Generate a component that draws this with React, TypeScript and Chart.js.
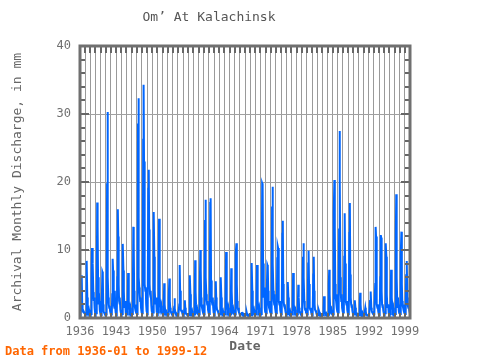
import React, { useEffect, useRef } from "react";
import { Chart, registerables } from "chart.js";

Chart.register(...registerables);

const chartTitle = "Om’ At Kalachinsk";
const yAxisTitle = "Archival Monthly Discharge, in mm";
const xAxisTitle = "Date";
const footnote = "Data from 1936-01 to 1999-12";

const firstYear = 1936;
const lastYearEnd = 2000;
const xTickLabels = ["1936", "1943", "1950", "1957", "1964", "1971", "1978", "1985", "1992", "1999"];
const yMin = 0;
const yMax = 40;
const yStep = 10;

// Monthly discharge (mm), Jan..Dec for each year
const flow1936to1945 = [
  0.6, 0.5, 0.5, 2.5, 6.3, 2.2, 1.2, 0.9, 0.8, 1.0, 0.8, 0.7,
  0.6, 0.5, 0.5, 1.5, 8.4, 3.0, 1.6, 1.0, 0.9, 1.2, 0.9, 0.7,
  0.6, 0.5, 0.6, 6.0, 10.3, 10.2, 8.0, 3.8, 2.5, 3.0, 1.5, 0.8,
  0.7, 0.6, 0.7, 3.5, 17.0, 13.5, 6.0, 3.0, 2.0, 2.5, 1.2, 0.8,
  0.5, 0.4, 0.5, 1.8, 6.8, 6.6, 2.0, 1.0, 0.8, 0.9, 0.6, 0.5,
  0.5, 0.5, 0.6, 19.8, 30.3, 6.0, 3.0, 2.0, 1.5, 1.8, 1.0, 0.7,
  0.6, 0.5, 0.6, 3.5, 8.7, 7.0, 4.5, 2.0, 1.5, 4.0, 1.5, 0.8,
  0.6, 0.5, 0.6, 6.0, 16.0, 12.0, 5.0, 2.5, 2.0, 3.0, 1.2, 0.8,
  0.6, 0.5, 0.6, 3.0, 10.9, 7.0, 4.0, 2.0, 1.5, 2.5, 1.0, 0.7,
  0.5, 0.5, 0.5, 2.0, 6.6, 4.0, 2.5, 1.5, 1.2, 1.5, 0.8, 0.6,
];
const flow1946to1955 = [
  0.6, 0.5, 0.6, 3.0, 13.4, 11.0, 4.0, 2.0, 1.5, 2.0, 1.0, 0.7,
  0.7, 0.6, 0.8, 28.6, 32.3, 6.0, 4.5, 3.5, 2.5, 3.0, 1.5, 1.0,
  0.8, 0.7, 0.8, 26.2, 34.3, 23.0, 7.0, 5.0, 4.0, 4.5, 2.0, 1.0,
  0.8, 0.7, 0.8, 19.0, 21.8, 13.0, 5.0, 3.5, 3.0, 4.0, 1.8, 1.0,
  0.8, 0.7, 0.8, 7.0, 15.6, 9.0, 4.0, 2.5, 2.0, 3.0, 1.5, 0.9,
  0.8, 0.7, 0.8, 5.0, 14.6, 6.0, 3.0, 2.0, 1.5, 1.8, 1.0, 0.7,
  0.6, 0.5, 0.5, 2.5, 5.1, 2.0, 1.2, 0.8, 0.7, 0.9, 0.6, 0.5,
  0.5, 0.5, 0.5, 3.0, 5.8, 2.5, 1.5, 1.0, 0.8, 1.0, 0.6, 0.5,
  0.5, 0.4, 0.4, 1.5, 2.9, 1.4, 0.8, 0.6, 0.5, 0.6, 0.5, 0.4,
  0.4, 0.4, 0.4, 2.0, 7.8, 4.0, 2.0, 1.2, 1.0, 1.2, 0.7, 0.5,
];
const flow1956to1965 = [
  0.5, 0.4, 0.4, 1.2, 2.6, 1.5, 0.8, 0.6, 0.5, 0.6, 0.5, 0.4,
  0.4, 0.4, 0.4, 1.5, 6.3, 3.5, 1.5, 1.0, 0.8, 1.0, 0.6, 0.5,
  0.5, 0.4, 0.5, 2.0, 8.5, 4.0, 2.0, 1.2, 1.0, 1.2, 0.7, 0.5,
  0.5, 0.5, 0.5, 3.0, 10.0, 7.0, 3.0, 1.8, 1.5, 2.0, 1.0, 0.6,
  0.6, 0.5, 0.6, 14.4, 17.4, 6.0, 3.5, 2.5, 2.0, 2.5, 1.2, 0.8,
  0.7, 0.6, 0.7, 16.9, 17.6, 5.5, 3.5, 2.5, 2.0, 3.0, 1.5, 0.8,
  0.6, 0.5, 0.5, 2.5, 5.4, 3.0, 1.8, 1.2, 1.0, 1.2, 0.7, 0.5,
  0.5, 0.5, 0.5, 2.0, 6.0, 3.0, 1.5, 1.0, 0.8, 1.0, 0.6, 0.5,
  0.5, 0.5, 0.5, 3.0, 9.7, 5.9, 2.5, 1.5, 1.2, 1.5, 0.8, 0.6,
  0.6, 0.5, 0.5, 2.5, 7.3, 4.0, 2.0, 1.2, 1.0, 1.2, 0.7, 0.5,
];
const flow1966to1975 = [
  0.6, 0.5, 0.6, 9.5, 11.0, 5.0, 2.5, 1.5, 1.2, 1.5, 0.9, 0.6,
  0.5, 0.4, 0.4, 0.6, 0.9, 0.6, 0.5, 0.4, 0.4, 0.5, 0.4, 0.3,
  0.3, 0.3, 0.3, 0.5, 0.8, 0.5, 0.4, 0.3, 0.3, 0.4, 0.3, 0.3,
  0.3, 0.3, 0.4, 4.0, 8.1, 4.0, 2.0, 1.2, 1.0, 1.2, 0.7, 0.5,
  0.5, 0.5, 0.5, 3.0, 7.8, 5.0, 2.5, 1.5, 1.2, 1.5, 0.8, 0.6,
  0.6, 0.5, 0.6, 8.2, 19.8, 19.6, 8.0, 4.0, 3.0, 4.5, 1.5, 0.9,
  0.8, 0.7, 0.7, 3.5, 7.8, 7.6, 4.0, 2.0, 1.5, 2.5, 1.2, 0.8,
  0.8, 0.7, 0.8, 16.4, 19.3, 8.0, 4.0, 2.5, 2.0, 3.5, 1.5, 0.9,
  0.8, 0.7, 0.8, 8.8, 10.6, 10.3, 5.0, 2.5, 2.0, 2.5, 1.2, 0.8,
  0.8, 0.7, 0.8, 12.4, 14.3, 5.0, 2.5, 1.8, 1.5, 2.0, 1.0, 0.7,
];
const flow1976to1985 = [
  0.6, 0.5, 0.6, 2.5, 5.3, 3.0, 1.5, 1.0, 0.8, 1.0, 0.7, 0.5,
  0.5, 0.5, 0.5, 2.0, 6.6, 4.0, 2.0, 1.2, 1.0, 1.2, 0.7, 0.5,
  0.5, 0.5, 0.5, 2.0, 4.9, 3.0, 1.5, 1.0, 0.8, 1.0, 0.6, 0.5,
  0.5, 0.5, 0.5, 9.0, 11.0, 6.0, 2.5, 1.5, 1.2, 1.5, 0.8, 0.6,
  0.6, 0.5, 0.6, 8.0, 9.9, 5.0, 2.5, 1.5, 1.2, 1.5, 0.8, 0.6,
  0.6, 0.5, 0.6, 6.4, 9.0, 4.0, 2.0, 1.2, 1.0, 1.2, 0.7, 0.5,
  0.4, 0.4, 0.4, 0.8, 1.2, 0.9, 0.6, 0.5, 0.4, 0.5, 0.4, 0.4,
  0.4, 0.4, 0.4, 1.5, 3.2, 2.0, 1.0, 0.7, 0.6, 0.7, 0.5, 0.4,
  0.4, 0.4, 0.4, 5.0, 7.1, 3.5, 1.8, 1.2, 1.0, 1.2, 0.7, 0.5,
  0.6, 0.5, 0.6, 15.5, 20.3, 12.8, 5.0, 3.0, 2.5, 3.5, 1.5, 0.9,
];
const flow1986to1995 = [
  0.9, 0.8, 0.9, 13.0, 27.5, 20.3, 6.0, 3.5, 2.5, 3.5, 1.5, 1.0,
  0.9, 0.8, 0.9, 9.0, 15.4, 8.0, 4.0, 2.5, 2.0, 2.5, 1.2, 0.8,
  0.8, 0.7, 0.8, 12.5, 16.9, 6.4, 3.0, 2.0, 1.5, 2.0, 1.0, 0.7,
  0.5, 0.5, 0.5, 1.5, 2.6, 1.5, 0.8, 0.6, 0.5, 0.6, 0.5, 0.4,
  0.4, 0.4, 0.4, 1.8, 3.7, 2.0, 1.0, 0.7, 0.6, 0.8, 0.5, 0.4,
  0.4, 0.4, 0.4, 0.8, 1.5, 1.0, 0.6, 0.5, 0.4, 0.5, 0.4, 0.4,
  0.4, 0.4, 0.4, 2.5, 3.9, 3.8, 1.5, 1.0, 0.8, 1.0, 0.6, 0.5,
  0.5, 0.5, 0.5, 5.0, 13.4, 12.0, 4.0, 2.0, 1.5, 2.0, 1.0, 0.7,
  0.7, 0.6, 0.7, 6.0, 12.2, 11.8, 4.0, 2.0, 1.5, 2.0, 1.0, 0.7,
  0.7, 0.6, 0.7, 5.0, 11.0, 9.0, 3.5, 2.0, 1.5, 2.0, 1.0, 0.7,
];
const flow1996to1999 = [
  0.6, 0.5, 0.6, 2.5, 7.1, 6.4, 3.0, 1.5, 1.2, 1.5, 0.8, 0.6,
  0.6, 0.5, 0.6, 12.2, 18.2, 6.0, 3.0, 2.0, 1.5, 2.0, 1.0, 0.7,
  0.7, 0.6, 0.7, 9.3, 12.7, 5.0, 2.5, 1.8, 1.5, 2.0, 1.0, 0.7,
  0.7, 0.6, 0.7, 6.3, 8.4, 7.8, 3.0, 1.8, 1.5, 2.0, 1.2, 0.9,
];

const FONT = "'DejaVu Sans Mono', 'Liberation Mono', monospace";

export default function App() {
  const ref = useRef<HTMLCanvasElement>(null);

  useEffect(() => {
    if (!ref.current) return;
    const values = [
      ...flow1936to1945,
      ...flow1946to1955,
      ...flow1956to1965,
      ...flow1966to1975,
      ...flow1976to1985,
      ...flow1986to1995,
      ...flow1996to1999,
    ];
    const points = values.map((v, i) => ({ x: firstYear + i / 12, y: v }));

    const framePlugin = {
      id: "frame",
      afterDraw(chart: any) {
        const { ctx, chartArea: a, scales } = chart;
        const xs = scales.x;
        const ys = scales.y;
        ctx.save();
        ctx.strokeStyle = "#666666";
        ctx.lineWidth = 2;
        ctx.beginPath();
        for (let yr = firstYear + 1; yr < lastYearEnd; yr++) {
          const px = Math.round(xs.getPixelForValue(yr));
          ctx.moveTo(px, a.top);
          ctx.lineTo(px, a.top + 7);
          ctx.moveTo(px, a.bottom);
          ctx.lineTo(px, a.bottom - 5);
        }
        for (let v = yMin + 2; v < yMax; v += 2) {
          const py = Math.round(ys.getPixelForValue(v));
          const len = v % 10 === 0 ? 9 : 5;
          ctx.moveTo(a.left, py);
          ctx.lineTo(a.left + len, py);
          ctx.moveTo(a.right, py);
          ctx.lineTo(a.right - len, py);
        }
        ctx.stroke();
        ctx.strokeStyle = "#707070";
        ctx.lineWidth = 3;
        ctx.strokeRect(a.left, a.top, a.right - a.left, a.bottom - a.top);
        ctx.font = `bold 12px ${FONT}`;
        ctx.fillStyle = "#ff6600";
        ctx.textAlign = "left";
        ctx.textBaseline = "middle";
        ctx.fillText(footnote, 5, 352);
        ctx.restore();
      },
    };

    const chart = new Chart(ref.current, {
      type: "line",
      data: {
        datasets: [
          {
            data: points,
            borderColor: "#0066ff",
            backgroundColor: "#0066ff",
            borderWidth: 2,
            pointRadius: 0,
            tension: 0,
            fill: false,
          },
        ],
      },
      options: {
        animation: false,
        responsive: false,
        devicePixelRatio: 1,
        layout: { padding: { left: 8, right: 70, top: 0, bottom: 0 } },
        plugins: {
          legend: { display: false },
          tooltip: { enabled: false },
          title: {
            display: true,
            text: chartTitle,
            color: "#555555",
            font: { family: FONT, size: 13, weight: "normal" },
            padding: { top: 10, bottom: 20.4 },
          },
        },
        scales: {
          x: {
            type: "linear",
            min: firstYear,
            max: lastYearEnd,
            afterFit: (s: any) => {
              s.height = 42;
            },
            grid: { color: "#9a9a9a", lineWidth: 1, drawTicks: false },
            border: { display: false },
            ticks: {
              stepSize: 1,
              maxTicksLimit: 200,
              autoSkip: false,
              maxRotation: 0,
              minRotation: 0,
              padding: 7,
              color: "#707070",
              font: { family: FONT, size: 12 },
              callback: (v: any) => {
                const s = String(Math.round(Number(v)));
                return xTickLabels.includes(s) ? s : "";
              },
            },
            title: {
              display: true,
              text: xAxisTitle,
              color: "#666666",
              font: { family: FONT, size: 13, weight: "bold" },
              padding: { top: 0, bottom: 6 },
            },
          },
          y: {
            min: yMin,
            max: yMax,
            afterFit: (s: any) => {
              s.width = 72;
            },
            grid: { color: "#a0a0a0", lineWidth: 1, drawTicks: false },
            border: { display: false },
            ticks: {
              stepSize: yStep,
              padding: 9,
              color: "#707070",
              font: { family: FONT, size: 12 },
            },
            title: {
              display: true,
              text: yAxisTitle,
              color: "#666666",
              font: { family: FONT, size: 13, weight: "normal" },
              padding: { top: 2, bottom: 0 },
            },
          },
        },
      },
      plugins: [framePlugin],
    });
    return () => chart.destroy();
  }, []);

  return (
    <div style={{ position: "absolute", left: 0, top: 0, width: 480, height: 360, background: "#ffffff" }}>
      <canvas ref={ref} width={480} height={360} style={{ display: "block" }} />
    </div>
  );
}
